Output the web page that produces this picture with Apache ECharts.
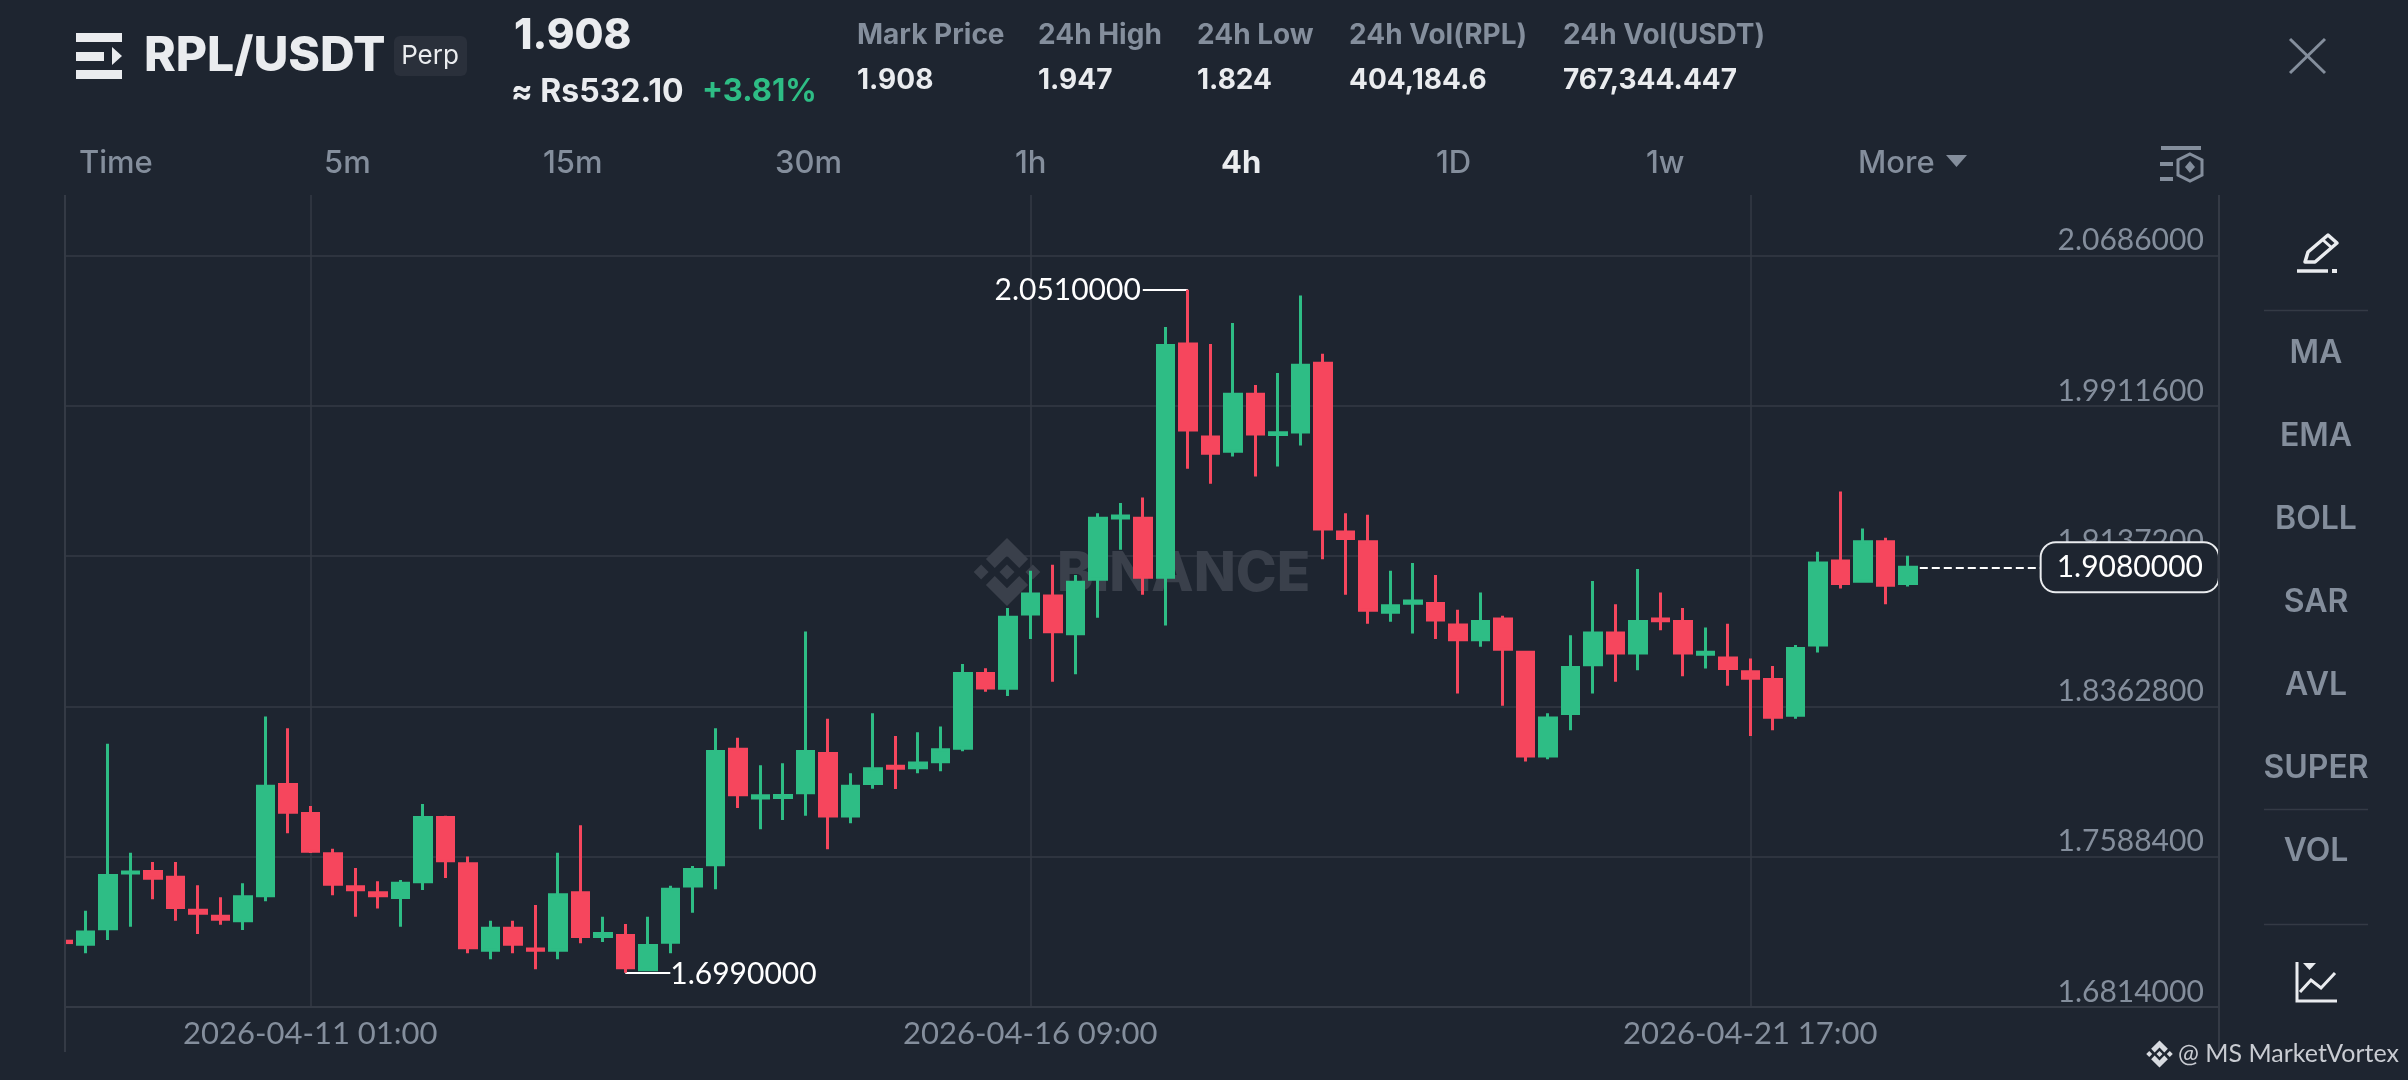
<!DOCTYPE html>
<html>
<head>
<meta charset="utf-8">
<style>html,body{margin:0;padding:0;background:#1e2530}#c{width:2408px;height:1080px}</style>
<script src="https://cdn.jsdelivr.net/npm/echarts@6/dist/echarts.min.js"></script>
</head>
<body>
<div id="c"></div>
<script>
const opens = [1.7153,1.7138,1.7217,1.7505,1.7512,1.7483,1.7313,1.7282,1.7258,1.7387,1.7961,1.7811,1.7604,1.7434,1.7403,1.7378,1.7459,1.7791,1.7552,1.7107,
1.7220,1.7113,1.7107,1.7403,1.7177,1.7182,1.7006,1.7148,1.7437,1.7547,1.8142,1.7891,1.7894,1.7918,1.8121,1.7798,1.7966,1.8055,1.8047,1.8078,
1.8147,1.8532,1.8456,1.8839,1.8932,1.8738,1.9018,1.9334,1.9333,1.9028,2.0231,1.9752,1.9678,1.9972,1.9764,1.9777,2.0132,1.9262,1.9212,1.8848,
1.8895,1.8893,1.8782,1.8707,1.8813,1.8642,1.8107,1.8327,1.8578,1.8741,1.8638,1.8814,1.8801,1.8632,1.8612,1.8542,1.8502,1.8317,1.8679,1.9112,
1.9008,1.9212,1.8997];
const closes = [1.7146,1.7201,1.7492,1.7510,1.7477,1.7327,1.7297,1.7266,1.7382,1.7951,1.7818,1.7617,1.7447,1.7418,1.7387,1.7452,1.7791,1.7568,1.7119,1.7220,
1.7138,1.7106,1.7392,1.7177,1.7193,1.7016,1.7131,1.7421,1.7523,1.8131,1.7908,1.7902,1.7904,1.8131,1.7798,1.7951,1.8042,1.8045,1.8071,1.8140,
1.8532,1.8458,1.8822,1.8942,1.8748,1.9003,1.9333,1.9344,1.9028,2.0223,1.9788,1.9668,1.9972,1.9767,1.9773,2.0121,1.9277,1.9228,1.8858,1.8882,
1.8906,1.8808,1.8707,1.8801,1.8657,1.8107,1.8303,1.8563,1.8741,1.8638,1.8801,1.8804,1.8638,1.8642,1.8558,1.8508,1.8307,1.8662,1.9102,1.8997,
1.9212,1.8987,1.9080];
const lows = [1.7146,1.7091,1.7159,1.7228,1.7369,1.7259,1.7190,1.7238,1.7211,1.7359,1.7709,1.7608,1.7390,1.7279,1.7321,1.7228,1.7417,1.7479,1.7091,1.7060,
1.7091,1.7008,1.7060,1.7142,1.7149,1.6990,1.6998,1.7091,1.7300,1.7421,1.7840,1.7730,1.7778,1.7800,1.7627,1.7761,1.7939,1.7938,1.8019,1.8029,
1.8132,1.8438,1.8417,1.8710,1.8490,1.8529,1.8820,1.9170,1.8938,1.8780,1.9588,1.9510,1.9651,1.9548,1.9600,1.9708,1.9122,1.8938,1.8789,1.8799,
1.8739,1.8710,1.8429,1.8670,1.8367,1.8079,1.8091,1.8240,1.8429,1.8490,1.8550,1.8756,1.8519,1.8558,1.8469,1.8211,1.8240,1.8299,1.8641,1.8971,
1.9000,1.8890,1.8981];
const highs = [1.7153,1.7310,1.8170,1.7609,1.7561,1.7561,1.7441,1.7379,1.7452,1.8311,1.8251,1.7850,1.7630,1.7530,1.7462,1.7469,1.7860,1.7799,1.7589,1.7259,
1.7259,1.7340,1.7609,1.7751,1.7279,1.7242,1.7279,1.7439,1.7541,1.8251,1.8201,1.8060,1.8070,1.8749,1.8300,1.8019,1.8328,1.8210,1.8230,1.8259,
1.8581,1.8560,1.8870,1.9062,1.9093,1.9040,1.9359,1.9411,1.9440,2.0318,2.0510,2.0231,2.0339,2.0019,2.0081,2.0480,2.0180,1.9359,1.9351,1.9062,
1.9102,1.9040,1.8861,1.8950,1.8830,1.8649,1.8328,1.8730,1.9009,1.8890,1.9071,1.8950,1.8870,1.8770,1.8789,1.8610,1.8571,1.8680,1.9160,1.9471,
1.9280,1.9232,1.9139];
const yTicks = [1.6814,1.75884,1.83628,1.91372,1.99116,2.0686];
const xTickLabels = ['2026-04-11 01:00','2026-04-16 09:00','2026-04-21 17:00'];
const firstCandleUTC = Date.UTC(2026,3,9,5);
const futureSlots = 14;
const lastPrice = 1.908, highMark = 2.051, lowMark = 1.699;

const tabs = ['Time','5m','15m','30m','1h','4h','1D','1w','More'];
const stats = [['Mark Price','1.908'],['24h High','1.947'],['24h Low','1.824'],['24h Vol(RPL)','404,184.6'],['24h Vol(USDT)','767,344.447']];
const indicators = ['MA','EMA','BOLL','SAR','AVL','SUPER','VOL'];

const BG='#1e2530', GREY='#848e9c', WHITE='#eaecef', UP='#2ebd85', DOWN='#f6465d', LINE='#343a45';
const FONT='Inter', NUM='Lato';

const pad=n=>String(n).padStart(2,'0');
const categories=[];
for(let i=0;i<opens.length+futureSlots;i++){
  const d=new Date(firstCandleUTC+i*4*3600e3);
  categories.push(`${d.getUTCFullYear()}-${pad(d.getUTCMonth()+1)}-${pad(d.getUTCDate())} ${pad(d.getUTCHours())}:${pad(d.getUTCMinutes())}`);
}
const candles=opens.map((o,i)=>[o,closes[i],lows[i],highs[i]]);
const isXTick=(i,v)=>xTickLabels.includes(v);

function txt(x,y,text,size,fill,weight,align){
  return {type:'text',z:60,x,y,style:{text,fontFamily:FONT,fontSize:size,fill,fontWeight:weight||500,align:align||'left',verticalAlign:'middle'}};
}
function seg(x1,y1,x2,y2,stroke,w,z){
  return {type:'line',z:z||60,shape:{x1,y1,x2,y2},style:{stroke,lineWidth:w||2}};
}
function poly(points,fill,z){return {type:'polygon',z:z||60,shape:{points},style:{fill}};}
function rect(x,y,width,height,fill,z,r){return {type:'rect',z:z||60,shape:{x,y,width,height,r:r||0},style:{fill}};}
function pline(points,stroke,w){return {type:'polyline',z:60,shape:{points},style:{stroke,lineWidth:w||3,fill:null}};}
function bnbLogo(cx,cy,r,fill,z){
  const p=a=>a.map(([x,y])=>[cx+x*r,cy+y*r]);
  const d=(x,y,s)=>poly(p([[x,y-s],[x+s,y],[x,y+s],[x-s,y]]),fill,z);
  return [
    d(0,0,.22),d(-.76,0,.22),d(.76,0,.22),
    poly(p([[0,-1],[.62,-.38],[.36,-.12],[0,-.48],[-.36,-.12],[-.62,-.38]]),fill,z),
    poly(p([[0,1],[.62,.38],[.36,.12],[0,.48],[-.36,.12],[-.62,.38]]),fill,z)
  ];
}

const tabX=[79,324,543,775,1015,1221,1436,1646,1858];
const statX=[857,1038,1197,1349,1563];
const indY=[353.5,436.5,519.5,602.5,685.5,768.5,851.5];

const graphics=[
  rect(0,190,64,818,BG,50),
  rect(2220,190,188,818,BG,50),
  seg(65,195,65,1052,LINE,2,55),
  seg(2219,195,2219,1052,LINE,2,55),
  rect(76,33,46,9,WHITE),rect(76,70,46,9,WHITE),rect(76,52,28,9,WHITE),
  poly([[112,47],[122,56],[112,65]],WHITE),
  txt(144,57,'RPL/USDT',48,WHITE,800),
  rect(394,36,73,40,'#2a303b',60,6),
  txt(430,56,'Perp',26,WHITE,400,'center'),
  txt(514,36,'1.908',42,WHITE,800),
  txt(511,92,'≈ Rs532.10',32,WHITE,700),
  txt(702,92,'+3.81%',31,UP,700),
  seg(2290,39,2325,73,GREY,3),seg(2325,39,2290,73,GREY,3),
  poly([[1946,155],[1967,155],[1956.5,167]],GREY),
  rect(2161,146,40,4,GREY),rect(2160,162,13,4,GREY),rect(2160,177,13,4,GREY),
  {type:'polygon',z:60,shape:{points:[[2190,154],[2202,160],[2202,175],[2190,181],[2178,175],[2178,160]]},style:{fill:'none',stroke:GREY,lineWidth:3}},
  poly([[2190,161],[2195,167],[2190,173],[2185,167]],GREY),
  seg(2264,310.5,2368,310.5,LINE,1.5),seg(2264,809.5,2368,809.5,LINE,1.5),seg(2264,924.5,2368,924.5,LINE,1.5),
  {type:'polygon',z:60,shape:{points:[[2305,262],[2308,252],[2328,235],[2337,243],[2315,262]]},style:{fill:'none',stroke:WHITE,lineWidth:3.5,lineJoin:'round'}},
  seg(2323,240,2332,248,WHITE,3),
  seg(2297,271,2328,271,WHITE,3.5),rect(2332,269,5,4,WHITE),
  pline([[2297,962],[2297,1001],[2337,1001]],WHITE,3),
  pline([[2300,992],[2311,980],[2321,988],[2335,973]],WHITE,3),
  poly([[2303,963],[2316,963],[2309.5,970]],WHITE),
  {type:'text',z:1,x:1057,y:574,style:{text:'BINANCE',fontFamily:FONT,fontSize:55,fontWeight:800,fill:'#3a404b',verticalAlign:'middle'}},
  ...bnbLogo(1007,572,34,'#3a404b',1),
  ...bnbLogo(2159.5,1054,13.5,'#d8dbe0',60),
  {type:'text',z:60,x:2178,y:1054,style:{text:'@ MS MarketVortex',fontFamily:NUM,fontSize:25,fill:'#c9ccd2',fontWeight:400,verticalAlign:'middle'}}
];
tabs.forEach((t,i)=>{
  const on=t==='4h';
  graphics.push(txt(tabX[i],164,t,31,on?WHITE:GREY,on?700:500));
});
stats.forEach((s,i)=>{
  graphics.push(txt(statX[i],36,s[0],28,GREY,700));
  graphics.push(txt(statX[i],81,s[1],28,WHITE,700));
});
indicators.forEach((t,i)=>graphics.push(txt(2316,indY[i],t,32,GREY,600,'center')));

const markStyle={show:true,color:'#fff',fontFamily:NUM,fontSize:30};
const chart=echarts.init(document.getElementById('c'),null,{renderer:'canvas'});
chart.setOption({
  animation:false,
  backgroundColor:BG,
  grid:{left:62.8,top:195,width:2160,height:812,containLabel:false},
  xAxis:{
    type:'category',data:categories,boundaryGap:false,
    axisLine:{show:true,lineStyle:{color:LINE,width:2}},
    axisTick:{show:false,interval:isXTick},
    axisLabel:{interval:isXTick,color:GREY,fontFamily:NUM,fontSize:31,margin:9,align:'center',lineHeight:36,hideOverlap:false},
    splitLine:{show:true,interval:isXTick,lineStyle:{color:LINE,width:1.5}}
  },
  yAxis:{
    type:'value',position:'right',min:1.6814,max:2.09985,scale:true,
    axisLine:{show:false},
    axisTick:{show:false,customValues:yTicks},
    axisLabel:{inside:true,customValues:yTicks,margin:19,color:GREY,fontFamily:NUM,fontSize:30,verticalAlign:'bottom',
      showMinLabel:true,showMaxLabel:true,formatter:v=>v.toFixed(7)},
    splitLine:{show:true,lineStyle:{color:LINE,width:1.5}}
  },
  graphic:{elements:graphics},
  series:[{
    type:'candlestick',z:2,barWidth:17,
    itemStyle:{color:UP,color0:DOWN,borderColor:UP,borderColor0:DOWN,borderWidth:3},
    data:candles,
    markLine:{
      z:1,silent:true,symbol:'none',animation:false,
      label:{show:false},
      data:[
        [{coord:[categories[50],highMark],lineStyle:{color:'#ffffff',width:2,type:'solid'}},{coord:[categories[48],highMark]}],
        [{coord:[categories[25],lowMark],lineStyle:{color:'#ffffff',width:2,type:'solid'}},{coord:[categories[27],lowMark]}],
        [{coord:[categories[82],lastPrice],lineStyle:{color:'#ffffff',width:2,type:'dashed'}},{coord:[categories[88],lastPrice]}]
      ]
    },
    markPoint:{
      silent:true,symbol:'circle',symbolSize:2,animation:false,
      itemStyle:{color:'rgba(0,0,0,0)',borderWidth:0},
      data:[
        {coord:[categories[48],highMark],label:{...markStyle,position:'left',distance:1,offset:[0,1]}, value:highMark.toFixed(7)},
        {coord:[categories[27],lowMark],label:{...markStyle,position:'right',distance:1,offset:[-2,1]}, value:lowMark.toFixed(7)},
        {coord:[categories[92],lastPrice],value:lastPrice.toFixed(7),label:{...markStyle,position:'inside',offset:[-3,0],
          backgroundColor:BG,borderColor:'#eaecef',borderWidth:2,borderRadius:14,padding:[9,15,9,15]}}
      ]
    }
  }]
});
</script>
</body>
</html>
